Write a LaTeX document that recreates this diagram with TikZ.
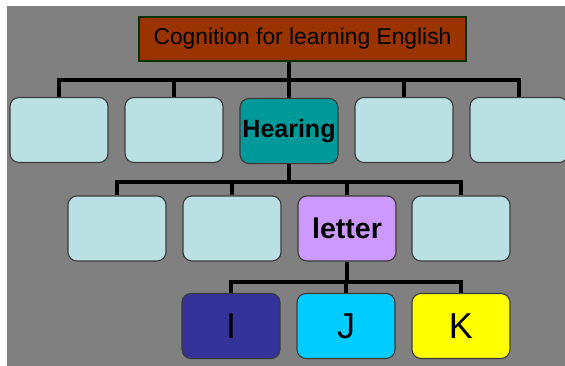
\documentclass[tikz,border=0pt]{standalone}
\usepackage{fontspec}
\setmainfont{Liberation Sans}
\begin{document}
\begin{tikzpicture}[x=1pt,y=-1pt,
  box/.style={draw=boxline, line width=1.1pt, rounded corners=9pt,
    minimum width=98pt, minimum height=65pt, inner sep=0pt, fill=paleblue},
  link/.style={draw=black, line width=3.3pt},
  every node/.style={text=black}]
\definecolor{bg}{HTML}{808080}
\definecolor{boxline}{HTML}{3A3A3A}
\definecolor{paleblue}{HTML}{BBE0E3}
\definecolor{rootfill}{HTML}{993300}
\definecolor{rootline}{HTML}{003300}
\definecolor{teal}{HTML}{009999}
\definecolor{lilac}{HTML}{CC99FF}
\definecolor{navy}{HTML}{333399}
\definecolor{sky}{HTML}{00CCFF}
\definecolor{lemon}{HTML}{FFFF00}

\useasboundingbox (0,0) rectangle (565,366);
\fill[bg] (7,6) rectangle (565,366);

% root
\node[draw=rootline, line width=1.5pt, fill=rootfill, minimum width=327pt,
  minimum height=44pt, inner sep=0pt, font=\fontsize{22.8}{26}\selectfont]
  (root) at (302.5,39) {Cognition for learning English};

% first row
\node[box] (r1a) at (59,130) {};
\node[box] (r1b) at (174,130) {};
\node[box, fill=teal, font=\bfseries\fontsize{25}{28}\selectfont] (r1c) at (289,131) {Hearing};
\node[box] (r1d) at (404,130) {};
\node[box] (r1e) at (519,130) {};

% second row
\node[box] (r2a) at (117,228.5) {};
\node[box] (r2b) at (232,228.5) {};
\node[box, fill=lilac, font=\bfseries\fontsize{28.5}{30}\selectfont] (r2c) at (347,228.5) {letter};
\node[box] (r2d) at (461,228.5) {};

% third row
\node[box, fill=navy, font=\fontsize{36}{40}\selectfont] (r3a) at (231,326) {I};
\node[box, fill=sky, font=\fontsize{36}{40}\selectfont] (r3b) at (346,326) {J};
\node[box, fill=lemon, font=\fontsize{36}{40}\selectfont] (r3c) at (461,326) {K};

% connectors: root to first row
\coordinate (bar1) at (289,80);
\draw[link] (root.south -| r1c.north) -- (r1c.north);
\draw[link] (r1a.north) |- (bar1) -| (r1e.north);
\draw[link] (r1b.north) -- (r1b.north |- bar1);
\draw[link] (r1d.north) -- (r1d.north |- bar1);

% connectors: Hearing to second row
\coordinate (bar2) at (289,182);
\draw[link] (r1c.south) -- (bar2);
\draw[link] (r2a.north) |- (bar2) -| (r2d.north);
\draw[link] (r2b.north) -- (r2b.north |- bar2);
\draw[link] (r2c.north) -- (r2c.north |- bar2);

% connectors: letter to third row
\coordinate (bar3) at (347,282);
\draw[link] (r2c.south) -- (bar3);
\draw[link] (r3a.north) |- (bar3) -| (r3c.north);
\draw[link] (r3b.north) -- (r3b.north |- bar3);
\end{tikzpicture}
\end{document}
